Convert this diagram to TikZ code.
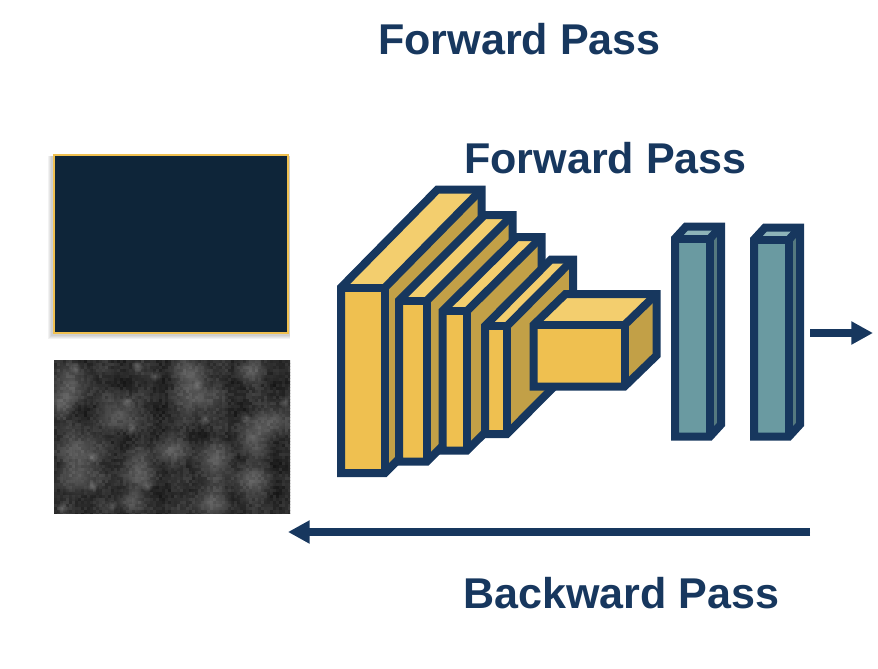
\documentclass[tikz,border=0pt]{standalone}
\usepackage{fontspec}
\setmainfont{Liberation Sans}
\usetikzlibrary{arrows.meta,fadings}

\definecolor{navy}{HTML}{17375E}
\definecolor{frontyellow}{HTML}{EFC050}
\definecolor{topyellow}{HTML}{F3CE6E}
\definecolor{sideyellow}{HTML}{C2A047}
\definecolor{frontteal}{HTML}{6A9AA1}
\definecolor{topteal}{HTML}{8DB3B8}
\definecolor{sideteal}{HTML}{55797F}
\definecolor{inputdark}{HTML}{0E2539}

\tikzfading[name=softblob,inner color=transparent!0,outer color=transparent!100]

% x0, y0, x1, y1, depth x, depth y, colour
\newcommand{\layerblock}[7]{
\fill[front#7] (#1,#2) rectangle (#3,#4);
\fill[top#7] (#1,#2) -- ++(#5,-#6) -- (#3+#5,#2-#6) -- (#3,#2) -- cycle;
\fill[side#7] (#3,#2) -- (#3+#5,#2-#6) -- (#3+#5,#4-#6) -- (#3,#4) -- cycle;
\draw[blockline] (#1,#4) -- (#1,#2) -- (#1+#5,#2-#6) -- (#3+#5,#2-#6) -- (#3+#5,#4-#6) -- (#3,#4) -- cycle;
\draw[blockline] (#1,#2) -- (#3,#2) -- (#3,#4);
\draw[blockline] (#3,#2) -- (#3+#5,#2-#6);
}

\begin{document}
\begin{tikzpicture}[x=0.75pt,y=-0.75pt]
\tikzset{
blockline/.style={draw=navy,line width=6pt,miter limit=10},
mylabel/.style={text=navy,font=\fontsize{32.3}{38}\selectfont\bfseries,inner sep=0pt,anchor=base west},
inputbox/.style={rectangle,fill=inputdark,draw=frontyellow,line width=1.5pt,inner sep=0pt,minimum width=175.5pt,minimum height=134pt},
myarrow/.style={-{Triangle[length=16.3pt,width=16.5pt]},draw=navy,fill=navy,line width=5.8pt},
}
\useasboundingbox (0,0) rectangle (878,668);

% soft shadow of the input
\foreach \s in {1,2,3,4}
  \fill[black,opacity=0.05] (52-\s,156) rectangle (290,335+\s);
\node[inputbox] (input) at (171,244) {};

% noise picture
\begin{scope}
\clip (54,360) rectangle (290,513);
\pgfmathsetseed{7}
\foreach \i in {0,...,78}
  \foreach \j in {0,...,51}{
    \pgfmathsetmacro\shadeval{min(40,max(8,13+9*rnd+3*sin(\i*28)+2*sin(\j*39)))}
    \fill[white!\shadeval!black] (54+3*\i,360+3*\j) rectangle ++(3.6,3.6);
  }
\foreach \bx/\by/\br in {72/385/26,120/413/26,197/397/30,274/420/24,252/437/24,80/447/28,80/475/26,137/470/26,213/460/26,170/450/22,250/480/26,210/500/24,190/372/22,60/405/16,250/372/18,130/500/16}
  \fill[white,opacity=0.24,path fading=softblob] (\bx,\by) circle (\br);
\foreach \bx/\by in {75/368,137/366,155/376,197/385,127/402,205/420,131/428,92/457,147/486,245/417,284/402,62/508,112/505,92/486}
  \fill[white,opacity=0.2,path fading=softblob] (\bx,\by) circle (6);
\end{scope}

% conv layers, back one last
\layerblock{341}{287.5}{385}{473}{96.5}{98}{yellow}
\layerblock{399}{300.5}{427}{461.5}{85.5}{85.5}{yellow}
\layerblock{442.5}{311}{467}{450.5}{74.5}{74}{yellow}
\layerblock{485}{326}{507}{434}{66}{66.5}{yellow}
\layerblock{533.5}{325}{624.5}{386.5}{32}{31}{yellow}
\layerblock{675}{238.5}{710}{436.5}{11}{12}{teal}
\layerblock{754}{239.5}{789}{436.5}{11}{12}{teal}

\node[mylabel] (title) at (378,54) {Forward Pass};
\node[mylabel] (forward) at (464,173) {Forward Pass};
\node[mylabel] (backward) at (463,608) {Backward Pass};

\coordinate (outstart) at (810,333);
\coordinate (outend) at (873,333);
\coordinate (backstart) at (810,532);
\coordinate (backend) at (288,532);
\draw[myarrow] (outstart) -- (outend);
\draw[myarrow] (backstart) -- (backend);
\end{tikzpicture}
\end{document}
